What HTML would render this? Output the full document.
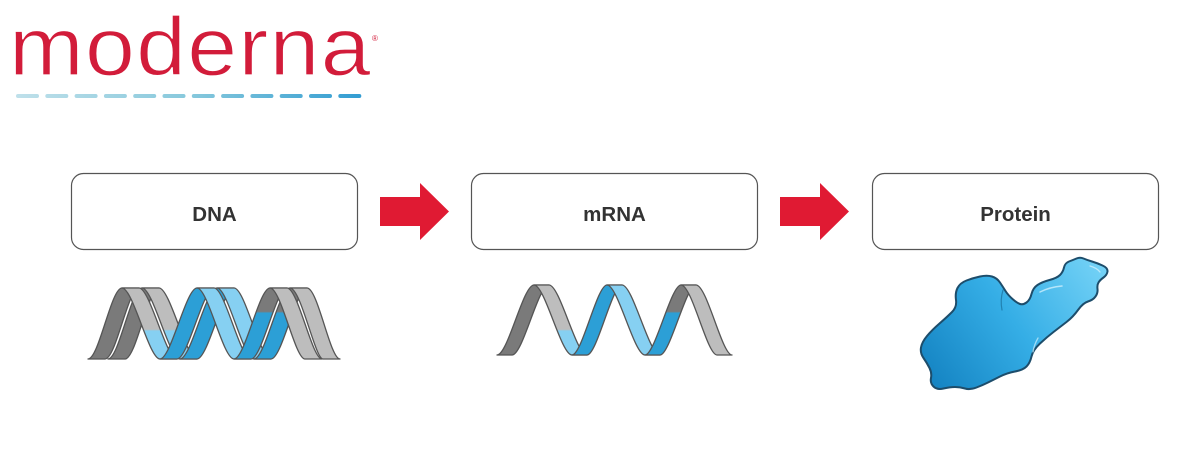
<!DOCTYPE html>
<html>
<head>
<meta charset="utf-8">
<style>
html,body{margin:0;padding:0;background:#ffffff;}
body{width:1198px;height:449px;overflow:hidden;}
svg{display:block;}
</style>
</head>
<body>
<svg width="1198" height="449" viewBox="0 0 1198 449" xmlns="http://www.w3.org/2000/svg">
  <defs>
    <linearGradient id="dash" x1="16" y1="0" x2="368" y2="0" gradientUnits="userSpaceOnUse">
      <stop offset="0" stop-color="#bfe0ea"/>
      <stop offset="0.5" stop-color="#86c8dc"/>
      <stop offset="1" stop-color="#2f9bd2"/>
    </linearGradient>
    <linearGradient id="gGL" x1="0" y1="280" x2="0" y2="365" gradientUnits="userSpaceOnUse">
      <stop offset="0" stop-color="#bdbdbd"/>
      <stop offset="0.58" stop-color="#bdbdbd"/>
      <stop offset="0.6" stop-color="#86d0f2"/>
      <stop offset="1" stop-color="#86d0f2"/>
    </linearGradient>
    <linearGradient id="gBD" x1="0" y1="280" x2="0" y2="365" gradientUnits="userSpaceOnUse">
      <stop offset="0" stop-color="#7a7a7a"/>
      <stop offset="0.37" stop-color="#7a7a7a"/>
      <stop offset="0.39" stop-color="#2c9fd6"/>
      <stop offset="1" stop-color="#2c9fd6"/>
    </linearGradient>
    <linearGradient id="prot" x1="930" y1="385" x2="1100" y2="262" gradientUnits="userSpaceOnUse">
      <stop offset="0" stop-color="#1483c2"/>
      <stop offset="0.5" stop-color="#35aee6"/>
      <stop offset="1" stop-color="#74d2f6"/>
    </linearGradient>
  </defs>

  <!-- Logo -->
  <text transform="translate(9,75) scale(1.08,1)" x="0" y="0" font-family="'Liberation Sans', sans-serif" font-size="83" letter-spacing="1.2" fill="#d21c3a" stroke="#ffffff" stroke-width="1.2">moderna</text>
  <text x="372" y="41" font-family="'Liberation Sans', sans-serif" font-size="8" fill="#d21c3a">®</text>
  <g fill="url(#dash)">
    <rect x="16" y="94" width="23" height="4" rx="2"/>
    <rect x="45.3" y="94" width="23" height="4" rx="2"/>
    <rect x="74.6" y="94" width="23" height="4" rx="2"/>
    <rect x="103.9" y="94" width="23" height="4" rx="2"/>
    <rect x="133.2" y="94" width="23" height="4" rx="2"/>
    <rect x="162.5" y="94" width="23" height="4" rx="2"/>
    <rect x="191.8" y="94" width="23" height="4" rx="2"/>
    <rect x="221.1" y="94" width="23" height="4" rx="2"/>
    <rect x="250.4" y="94" width="23" height="4" rx="2"/>
    <rect x="279.7" y="94" width="23" height="4" rx="2"/>
    <rect x="309" y="94" width="23" height="4" rx="2"/>
    <rect x="338.3" y="94" width="23" height="4" rx="2"/>
  </g>

  <!-- Boxes -->
  <g fill="#ffffff" stroke="#555555" stroke-width="1.2">
    <rect x="71.5" y="173.5" width="286" height="76" rx="12"/>
    <rect x="471.5" y="173.5" width="286" height="76" rx="12"/>
    <rect x="872.5" y="173.5" width="286" height="76" rx="12"/>
  </g>
  <g font-family="'Liberation Sans', sans-serif" font-size="20.5" font-weight="bold" fill="#333333" text-anchor="middle">
    <text x="214.5" y="221">DNA</text>
    <text x="614.5" y="221">mRNA</text>
    <text x="1015.5" y="221">Protein</text>
  </g>

  <!-- Arrows -->
  <g fill="#e01a33">
    <polygon points="380,197 420,197 420,183 449,211.5 420,240 420,226 380,226"/>
    <polygon points="780,197 820,197 820,183 849,211.5 820,240 820,226 780,226"/>
  </g>

  <!-- DNA double helix -->
  <g stroke="#555555" stroke-width="1.3" stroke-linejoin="round">
    <path fill="#7a7a7a" d="M88 359 C99 359 111 288 122 288 L139 288 C128 288 116 359 105 359 Z"/>
    <path fill="#7a7a7a" d="M108 359 C119 359 131 288 142 288 L159 288 C148 288 136 359 125 359 Z"/>
    <path fill="url(#gGL)" d="M122 288 C133 288 149 359 160 359 L177 359 C166 359 150 288 139 288 Z"/>
    <path fill="url(#gGL)" d="M142 288 C153 288 169 359 180 359 L197 359 C186 359 170 288 159 288 Z"/>
    <path fill="#2c9fd6" d="M160 359 C171 359 186 288 197 288 L214 288 C203 288 188 359 177 359 Z"/>
    <path fill="#2c9fd6" d="M180 359 C191 359 206 288 217 288 L234 288 C223 288 208 359 197 359 Z"/>
    <path fill="#86d0f2" d="M197 288 C208 288 223 359 234 359 L251 359 C240 359 225 288 214 288 Z"/>
    <path fill="#86d0f2" d="M217 288 C228 288 243 359 254 359 L271 359 C260 359 245 288 234 288 Z"/>
    <path fill="url(#gBD)" d="M234 359 C245 359 259 288 270 288 L287 288 C276 288 262 359 251 359 Z"/>
    <path fill="url(#gBD)" d="M254 359 C265 359 279 288 290 288 L307 288 C296 288 282 359 271 359 Z"/>
    <path fill="#bdbdbd" d="M270 288 C281 288 295 359 305 359 L322 359 C312 359 298 288 287 288 Z"/>
    <path fill="#bdbdbd" d="M290 288 C301 288 315 359 323 359 L340 359 C330 359 318 288 307 288 Z"/>
  </g>

  <!-- mRNA single strand -->
  <g stroke="#555555" stroke-width="1.3" stroke-linejoin="round">
    <path fill="#7a7a7a" d="M497 355 C508 355 523 285 534 285 L549 285 C538 285 523 355 512 355 Z"/>
    <path fill="url(#gGL)" d="M534 285 C545 285 561 355 572 355 L587 355 C576 355 560 285 549 285 Z"/>
    <path fill="#2c9fd6" d="M572 355 C582 355 597 285 607 285 L622 285 C612 285 597 355 587 355 Z"/>
    <path fill="#86d0f2" d="M607 285 C618 285 634 355 645 355 L660 355 C649 355 633 285 622 285 Z"/>
    <path fill="url(#gBD)" d="M645 355 C655 355 671 285 681 285 L696 285 C686 285 670 355 660 355 Z"/>
    <path fill="#bdbdbd" d="M681 285 C692 285 707 355 717 355 L732 355 C722 355 707 285 696 285 Z"/>
  </g>

  <!-- Protein blob -->
  <path d="M921 347.5 Q922 342 927 336 Q932 330 939.5 323.5 Q947 317 952 312 Q957 307 956 300 Q955 293 957.5 288 Q960 283 966.5 280.5 Q973 278 980 276.5 Q987 275 992 276.5 Q997 278 1000 282.5 Q1003 287 1005.5 291 Q1008 295 1012.5 299 Q1017 303 1020 304 Q1023 305 1026.5 302.5 Q1030 300 1031.5 294 Q1033 288 1037.5 285 Q1042 282 1049.5 280 Q1057 278 1060 275 Q1063 272 1064 267.5 Q1065 263 1069 261.5 Q1073 260 1076.5 258.5 Q1080 257 1083.5 258.5 Q1087 260 1092 261.5 Q1097 263 1102.5 265.5 Q1108 268 1107.5 271.5 Q1107 275 1103.5 277.5 Q1100 280 1098.5 282.5 Q1097 285 1097.5 289 Q1098 293 1095.5 296.5 Q1093 300 1088 301.5 Q1083 303 1078 310 Q1073 317 1066.5 322 Q1060 327 1053.5 332 Q1047 337 1040 343.5 Q1033 350 1031.5 356.5 Q1030 363 1026.5 366.5 Q1023 370 1015 371.5 Q1007 373 1000 376.5 Q993 380 988 382.5 Q983 385 976.5 387.5 Q970 390 965 388.5 Q960 387 955 387 Q950 387 943.5 388.5 Q937 390 933.5 386.5 Q930 383 931 378 Q932 373 929.5 368 Q927 363 923.5 358 Q920 353 921 347.5 Z" fill="url(#prot)" stroke="#1d4d6b" stroke-width="2" stroke-linejoin="round"/>
  <g fill="none" stroke-linecap="round">
    <path d="M1003 290 Q1000 300 1002 310" stroke="#1a6d9a" stroke-width="1.2" opacity="0.7"/>
    <path d="M1040 292 Q1050 287 1062 286" stroke="#cdeffc" stroke-width="1.5" opacity="0.8"/>
    <path d="M1090 266 Q1097 268 1100 272" stroke="#cdeffc" stroke-width="1.3" opacity="0.8"/>
    <path d="M1038 338 Q1034 345 1033 352" stroke="#cdeffc" stroke-width="1.3" opacity="0.7"/>
  </g>
</svg>
</body>
</html>
